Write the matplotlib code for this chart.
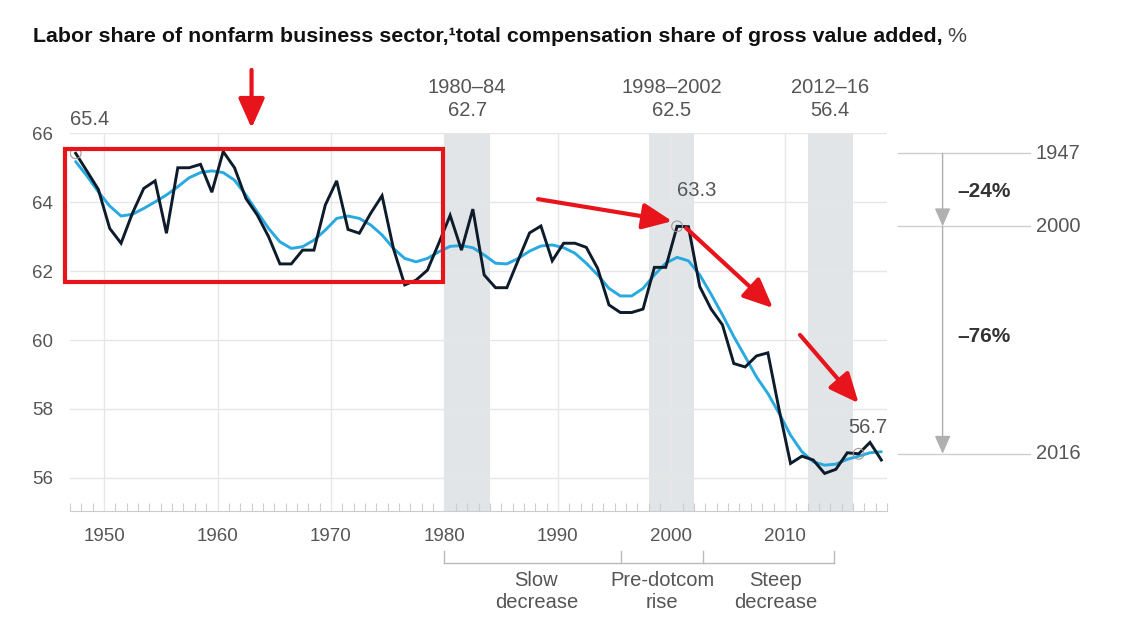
import numpy as np
import matplotlib
matplotlib.use("Agg")
import matplotlib.pyplot as plt
from matplotlib.patches import Rectangle
import matplotlib.transforms as mtransforms

plt.rcParams['font.family'] = ['Liberation Sans', 'DejaVu Sans']

# ---------------- data ----------------
years = np.arange(1947, 2019)
labor_share = [
    65.42, 64.90, 64.37, 63.24, 62.81, 63.68, 64.40, 64.62, 63.10, 65.00,
    65.00, 65.10, 64.29, 65.47, 65.00, 64.11, 63.63, 63.00, 62.21, 62.21,
    62.61, 62.61, 63.92, 64.62, 63.21, 63.10, 63.68, 64.19, 62.66, 61.60,
    61.74, 62.03, 62.81, 63.62, 62.61, 63.80, 61.89, 61.52, 61.52, 62.32,
    63.11, 63.31, 62.30, 62.81, 62.81, 62.69, 62.08, 61.02, 60.80, 60.80,
    60.90, 62.11, 62.11, 63.30, 63.29, 61.55, 60.90, 60.44, 59.32, 59.22,
    59.54, 59.63, 57.97, 56.42, 56.63, 56.52, 56.13, 56.25, 56.73, 56.70,
    57.03, 56.52,
]
trend = [
    65.18, 64.76, 64.30, 63.89, 63.60, 63.65, 63.82, 64.01, 64.21, 64.45,
    64.71, 64.86, 64.91, 64.86, 64.64, 64.21, 63.72, 63.24, 62.85, 62.66,
    62.71, 62.90, 63.19, 63.53, 63.60, 63.53, 63.34, 63.05, 62.66, 62.37,
    62.27, 62.37, 62.56, 62.72, 62.74, 62.68, 62.47, 62.23, 62.21, 62.37,
    62.58, 62.73, 62.76, 62.68, 62.52, 62.23, 61.89, 61.50, 61.28, 61.28,
    61.50, 61.89, 62.23, 62.40, 62.30, 61.89, 61.33, 60.73, 60.10, 59.52,
    58.93, 58.45, 57.87, 57.24, 56.76, 56.47, 56.37, 56.40, 56.54, 56.63,
    56.73, 56.76,
]
band_starts = [1980, 1998, 2012]
band_ends = [1984, 2002, 2016]
band_labels = ["1980–84", "1998–2002", "2012–16"]
band_values = ["62.7", "62.5", "56.4"]
highlight_years = [1947, 2000, 2016]
decade_ticks = [1950, 1960, 1970, 1980, 1990, 2000, 2010]
y_ticks = [56, 58, 60, 62, 64, 66]
phase_edges = [1980, 1995.6, 2002.8, 2014.3]
phase_labels = ["Slow\ndecrease", "Pre-dotcom\nrise", "Steep\ndecrease"]
phase_centers = [1988.1, 1999.2, 2009.2]

# ---------------- style ----------------
NAVY = "#0d1b2a"
BLUE = "#28a9e0"
BAND = "#e2e5e7"
GRID = "#e6e6e6"
TXT = "#555555"
RED = "#e8141b"
ARR = "#b0b0b0"
FS = 14.5

fig = plt.figure(figsize=(11.23, 6.30), dpi=100)
W, H = 1123, 630
ax = fig.add_axes([70 / W, 1 - 511 / H, (887 - 70) / W, (511 - 133.3) / H])
ax.set_xlim(1947, 2019)
ax.set_ylim(55.04, 66)

x = years + 0.5

for s, e in zip(band_starts, band_ends):
    ax.axvspan(s, e, color=BAND, lw=0, zorder=0)

for yv in y_ticks:
    ax.axhline(yv, color=GRID, lw=1, zorder=0.5)
for d in decade_ticks:
    ax.axvline(d, color=GRID, lw=1, zorder=0.5)

ax.plot(x, trend, color=BLUE, lw=2.1, zorder=3, solid_capstyle='round')
ax.plot(x, labor_share, color=NAVY, lw=2.1, zorder=4, solid_joinstyle='miter')

ls = dict(zip(years, labor_share))
hx = [hy + 0.5 for hy in highlight_years]
hv = [ls[hy] for hy in highlight_years]
ax.scatter(hx, hv, s=60, facecolors='none', edgecolors='#999999', lw=0.8, zorder=5)

# spines / ticks
for sp in ['top', 'right', 'left']:
    ax.spines[sp].set_visible(False)
ax.spines['bottom'].set_color('#cccccc')
ax.set_xticks(decade_ticks)
ax.set_xticks(np.arange(1947, 2020), minor=True)
ax.tick_params(axis='x', which='major', length=0, pad=12, labelsize=13.5, labelcolor=TXT)
ax.tick_params(axis='x', which='minor', direction='in', length=6, color='#cccccc', width=0.8)
ax.set_yticks(y_ticks)
ax.tick_params(axis='y', length=0, pad=12, labelsize=13.5, labelcolor=TXT)

# band labels
for s, e, lab, val in zip(band_starts, band_ends, band_labels, band_values):
    cx = (s + e) / 2
    ax.text(cx, 67.34, lab, ha='center', va='center', fontsize=FS, color=TXT, clip_on=False)
    ax.text(cx, 66.66, val, ha='center', va='center', fontsize=FS, color=TXT, clip_on=False)

# point labels
ax.text(1947.0, 66.39, f"{hv[0]:.1f}", ha='left', va='center', fontsize=FS, color=TXT, clip_on=False)
ax.text(2002.2, 64.35, f"{hv[1]:.1f}", ha='center', va='center', fontsize=FS, color=TXT)
ax.text(2017.35, 57.47, f"{hv[2]:.1f}", ha='center', va='center', fontsize=FS, color=TXT)

# right-side decomposition annotation
for hy, v in zip(highlight_years, hv):
    ax.plot([2020.0, 2031.6], [v, v], color='#cfcfcf', lw=1, clip_on=False)
    ax.text(2032.1, v, str(hy), ha='left', va='center', fontsize=FS, color=TXT, clip_on=False)
ax_x = 2023.9
for v0, v1 in [(hv[0], hv[1]), (hv[1], hv[2])]:
    ax.annotate("", xy=(ax_x, v1), xytext=(ax_x, v0), annotation_clip=False,
                arrowprops=dict(arrowstyle='-|>,head_length=0.8,head_width=0.35', color=ARR,
                                lw=1, shrinkA=0, shrinkB=0, mutation_scale=14))
total = hv[0] - hv[2]
p1 = (hv[0] - hv[1]) / total * 100
p2 = (hv[1] - hv[2]) / total * 100
ax.text(2025.2, 64.3, f"–{p1:.0f}%", ha='left', va='center', fontsize=15, fontweight='bold', color='#333333', clip_on=False)
ax.text(2025.2, 60.09, f"–{p2:.0f}%", ha='left', va='center', fontsize=15, fontweight='bold', color='#333333', clip_on=False)

# bottom phase brackets
tr = mtransforms.blended_transform_factory(ax.transData, ax.transAxes)
ax.plot([phase_edges[0], phase_edges[-1]], [-0.1377, -0.1377], color='#bbbbbb', lw=1, transform=tr, clip_on=False)
for pe in phase_edges:
    ax.plot([pe, pe], [-0.1377, -0.105], color='#bbbbbb', lw=1, transform=tr, clip_on=False)
for pc, pl in zip(phase_centers, phase_labels):
    ax.text(pc, -0.213, pl, ha='center', va='center', fontsize=FS, color=TXT, transform=tr,
            linespacing=1.2, clip_on=False)

# red overlay annotations
ax.add_patch(Rectangle((1946.53, 61.69), 1979.84 - 1946.53, 65.54 - 61.69, fill=False,
                       edgecolor=RED, lw=3, zorder=6, clip_on=False))
red_arrows = [
    ((1963.0, 67.84), (1963.0, 66.15)),
    ((1988.25, 64.09), (2000.07, 63.45)),
    ((2001.3, 63.25), (2008.95, 60.93)),
    ((2011.33, 60.15), (2016.5, 58.17)),
]
for (x0, y0), (x1, y1) in red_arrows:
    ax.annotate("", xy=(x1, y1), xytext=(x0, y0), annotation_clip=False, zorder=7,
                arrowprops=dict(arrowstyle='-|>,head_length=0.9,head_width=0.4', color=RED,
                                lw=3, shrinkA=0, shrinkB=0, mutation_scale=20))

# title
t1 = fig.text(33 / W, 1 - 37 / H, "Labor share of nonfarm business sector,¹total compensation share of gross value added,",
              ha='left', va='center', fontsize=15.4, fontweight='bold', color='#111111')
fig.canvas.draw()
bb = t1.get_window_extent()
fig.text(bb.x1 / W + 5 / W, 1 - 37 / H, "%", ha='left', va='center', fontsize=15.4, color='#444444')

fig.savefig("out.png", dpi=100)
